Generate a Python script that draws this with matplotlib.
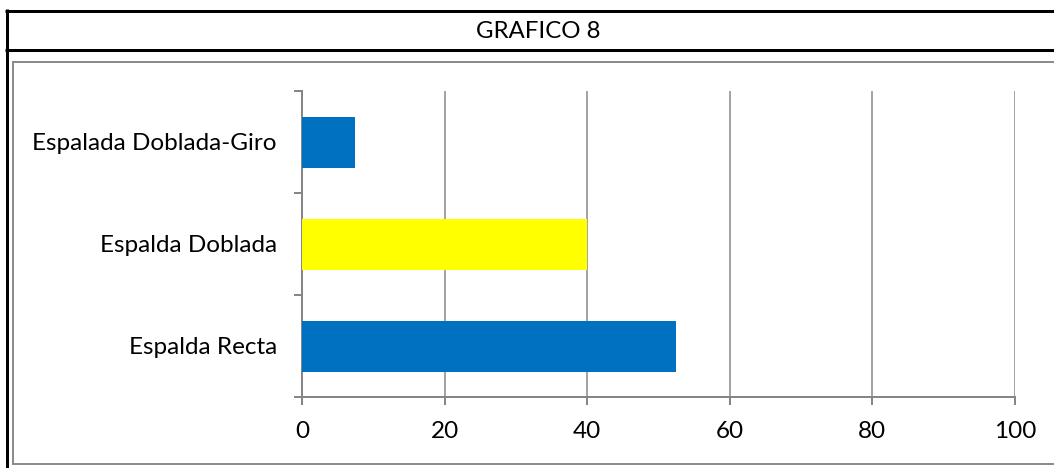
import matplotlib
matplotlib.use("Agg")
import matplotlib.pyplot as plt
from matplotlib.lines import Line2D

title = "GRAFICO 8"
categories = ["Espalda Recta", "Espalda Doblada", "Espalada Doblada-Giro"]
values = [52.5, 40, 7.5]
colors = ["#0070C0", "#FFFF00", "#0070C0"]
xticks = [0, 20, 40, 60, 80, 100]

W, H = 1054, 468
PX = 72 / 100  # points per pixel
plt.rcParams['font.family'] = ['Lato', 'DejaVu Sans']
fig = plt.figure(figsize=(W / 100, H / 100), dpi=100)

def fx(x):
    return x / W

def fy(y):
    return 1 - y / H

# outer black frame (left, top, under title)
black = dict(color="black", lw=3 * PX, solid_capstyle="butt")
fig.add_artist(Line2D([fx(6.5), fx(6.5)], [fy(9), fy(468)], transform=fig.transFigure, **black))
fig.add_artist(Line2D([fx(5), fx(1054)], [fy(10.5), fy(10.5)], transform=fig.transFigure, **black))
fig.add_artist(Line2D([fx(5), fx(1054)], [fy(49.5), fy(49.5)], transform=fig.transFigure, **black))

# inner gray chart frame
gray = dict(color="#8C8C8C", lw=2 * PX, solid_capstyle="butt")
fig.add_artist(Line2D([fx(12.5), fx(12.5)], [fy(61.5), fy(464)], transform=fig.transFigure, **gray))
fig.add_artist(Line2D([fx(12), fx(1054)], [fy(61.5), fy(61.5)], transform=fig.transFigure, **gray))
fig.add_artist(Line2D([fx(12), fx(1054)], [fy(464), fy(464)], transform=fig.transFigure, **gray))

fig.text(fx(538), fy(31), title, ha="center", va="center", fontsize=17.3, color="black")

left, right, top, bottom = 302, 1015, 91, 397
ax = fig.add_axes([fx(left), fy(bottom), (right - left) / W, (bottom - top) / H])

ypos = list(range(len(categories)))
ax.barh(ypos, values, height=0.5, color=colors, zorder=3)
ax.set_xlim(0, 100)
ax.set_ylim(-0.5, len(categories) - 0.5)
ax.set_xticks(xticks)
ax.set_xticklabels([str(t) for t in xticks], fontsize=17.5)
ax.set_yticks(ypos)
ax.set_yticklabels(categories, fontsize=17.5)
ax.set_yticks([-0.5, 0.5, 1.5, 2.5], minor=True)

ax.grid(axis="x", color="#868686", lw=1.5 * PX, zorder=0)
for s in ["top", "right"]:
    ax.spines[s].set_visible(False)
for s in ["left", "bottom"]:
    ax.spines[s].set_color("#868686")
    ax.spines[s].set_linewidth(2 * PX)

ax.tick_params(axis="y", which="major", length=0, pad=25 * PX)
ax.tick_params(axis="y", which="minor", length=8 * PX, width=2 * PX, color="#868686")
ax.tick_params(axis="x", which="major", length=8 * PX, width=2 * PX, color="#868686",
               pad=16 * PX, direction="out")

fig.savefig("out.png", dpi=100)
